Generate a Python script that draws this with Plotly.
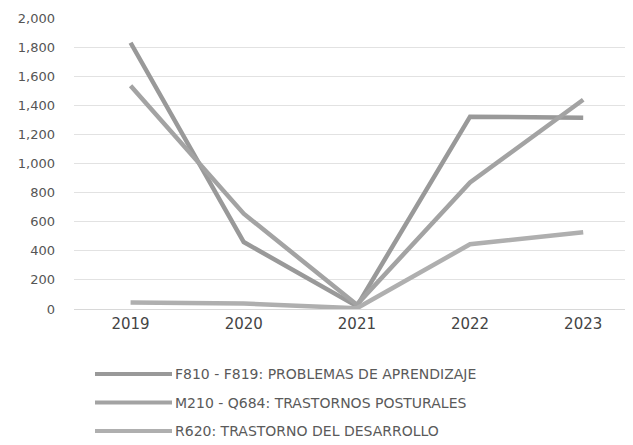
import plotly.graph_objects as go

years = ["2019", "2020", "2021", "2022", "2023"]
names = [
    "F810 - F819: PROBLEMAS DE APRENDIZAJE",
    "M210 - Q684: TRASTORNOS POSTURALES",
    "R620: TRASTORNO DEL DESARROLLO",
]
f810 = [1830, 460, 20, 1322, 1315]
m210 = [1535, 655, 30, 870, 1438]
r620 = [45, 38, 5, 445, 527]
series = [f810, m210, r620]
colors = ["#999999", "#a3a3a3", "#afafaf"]

# page body has an 8px default margin; figure coords = window px - 8
OFF = 8
W, H = 633 - OFF, 445 - OFF
L, R, T = 74 - OFF, 0, 18 - OFF
B = H - (309 - OFF)
pw, ph = W - L - R, H - T - B

fig = go.Figure()
for nm, vals, c in zip(names, series, colors):
    fig.add_trace(go.Scatter(x=years, y=vals, mode="lines", name=nm,
                             line=dict(color=c, width=4.5), showlegend=False))

font = dict(family="DejaVu Sans", size=12, color="#555555")

def px_x(px):
    return (px - OFF - L) / pw

def px_y(py):
    return (H - B - (py - OFF)) / ph

for i, (nm, c) in enumerate(zip(names, colors)):
    py = 374 + 28.5 * i
    fig.add_shape(type="line", xref="paper", yref="paper",
                  x0=px_x(95), x1=px_x(172), y0=px_y(py), y1=px_y(py),
                  line=dict(color=c, width=4))
    fig.add_annotation(xref="paper", yref="paper", x=px_x(173), y=px_y(py),
                       text=nm, showarrow=False, xanchor="left", yanchor="middle",
                       font=dict(family="DejaVu Sans", size=14, color="#5a5a5a"))

fig.update_layout(
    width=W, height=H,
    margin=dict(l=L, r=R, t=T, b=B, autoexpand=False),
    paper_bgcolor="white", plot_bgcolor="white",
    font=font,
    showlegend=False,
    xaxis=dict(type="category", range=[-0.5, 4.44], showgrid=False,
               showline=False, ticks="", tickfont=dict(size=15, color="#444444"),
               ticklabelstandoff=4, zeroline=False, automargin=False),
    yaxis=dict(range=[0, 2000], dtick=200, tickformat=",", showgrid=True,
               gridcolor="#e2e2e2", gridwidth=1, zeroline=True,
               zerolinecolor="#d8d8d8", zerolinewidth=1,
               showline=False, ticks="", ticklabelstandoff=18, automargin=False,
               tickfont=dict(size=13, color="#555555")),
)

fig.write_html("out.html")
